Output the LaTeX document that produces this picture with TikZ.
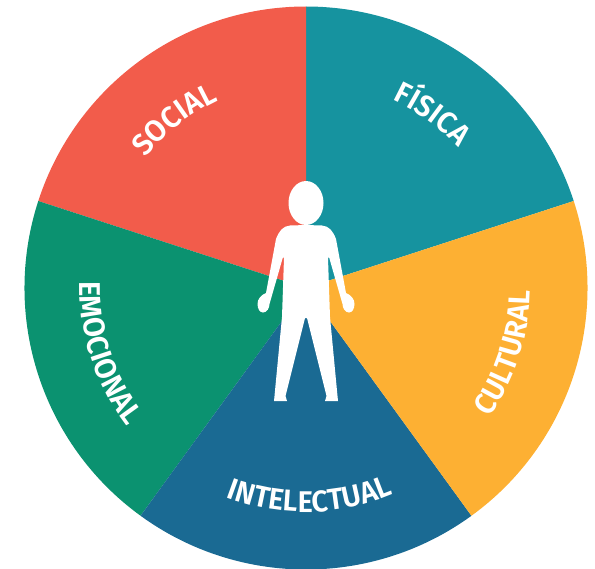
\documentclass[tikz,border=0pt]{standalone}
\usepackage{fontspec}
\usetikzlibrary{decorations.text}
\newfontfamily\labelfont[FakeStretch=0.97]{Fira Sans SemiBold}
\definecolor{socialred}{HTML}{F25C4B}
\definecolor{fisicateal}{HTML}{16939F}
\definecolor{culturalorange}{HTML}{FDB033}
\definecolor{intelblue}{HTML}{1A6A93}
\definecolor{emogreen}{HTML}{0B9270}
\begin{document}
\begin{tikzpicture}[x=0.75pt, y=0.75pt,
        wordarc/.style={decorate, decoration={text along path, text align=center, text={|\fontsize{22.5}{26}\labelfont\color{white}|#1}}}]
    \useasboundingbox (-306, -280) rectangle (289, 288);
    \clip (-306, -280) rectangle (289, 288);
    % wedges
    \foreach \a/\c in {18/fisicateal, 90/socialred, 162/emogreen, 234/intelblue, 306/culturalorange}
    {
        \fill[\c] (0, 0) -- (\a:281.5) arc (\a:\a+72:281.5) -- cycle;
    }
    % labels
    \path[wordarc={SOCIAL}] (188:207) arc (188:68:207);
    \path[wordarc={FÍSICA}] (114:207) arc (114:-6:207);
    \path[wordarc={CULTURAL}] (-78:224) arc (-78:42:224);
    \path[wordarc={INTELECTUAL}] (-149:224) arc (-149:-29:224);
    \path[wordarc={EMOCIONAL}] (138:226) arc (138:258:226);
    % figure
    \fill[white] (0, 85) ellipse (17.5 and 22);
    \foreach \s in {1, -1}
    {
        \fill[white, xscale=\s] (-0.5, 63) -- (16, 62.5) .. controls (23, 62) and (27, 57) .. (30, 49)
            -- (40, -5) .. controls (45, -7) and (48.5, -11) .. (48.5, -16)
            .. controls (48.5, -21) and (46, -24.5) .. (43, -24.5)
            .. controls (39, -24.5) and (36.5, -20) .. (36.5, -16)
            -- (23, 31) -- (22, 30) -- (24, -29) -- (31.5, -108) -- (32, -113) -- (19, -113) -- (20.5, -108)
            -- (1, -30) -- (-0.5, -30) -- cycle;
    }
\end{tikzpicture}
\end{document}
